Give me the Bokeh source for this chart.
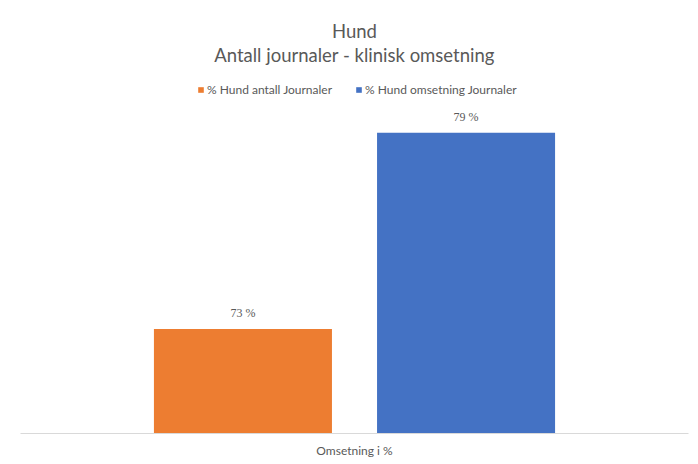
from bokeh.plotting import figure
from bokeh.models import ColumnDataSource, Range1d, FactorRange, LabelSet, Title, Legend
from bokeh.transform import dodge
from bokeh.embed import file_html
from bokeh.resources import INLINE

# ---- data ----
categories = ["Omsetning i %"]
series = ["% Hund antall Journaler", "% Hund omsetning Journaler"]
values = [73, 79]
value_labels = ["73 %", "79 %"]
colors = ["#ED7D31", "#4472C4"]
offsets = [-0.167, 0.167]
title_main = "Hund"
title_sub = "Antall journaler - klinisk omsetning"

FONT = "Lato"
GRAY = "#595959"

y_start, y_end = 69.8, 80.54

p = figure(width=692, height=460, output_backend="svg", toolbar_location=None,
           x_range=FactorRange(*categories), y_range=Range1d(y_start, y_end),
           min_border_left=20, min_border_right=4, min_border_bottom=25, min_border_top=82)
p.outline_line_color = None
p.background_fill_color = "white"
p.border_fill_color = "white"

legend_items = []
for name, v, lab, c, off in zip(series, values, value_labels, colors, offsets):
    src = ColumnDataSource(dict(cat=categories, value=[v], label=[lab]))
    r = p.vbar(x=dodge("cat", off, range=p.x_range), top="value", bottom=y_start,
               width=0.2665, source=src, fill_color=c, line_color=None)
    legend_items.append((name, [r]))
    lbl = LabelSet(x=dodge("cat", off, range=p.x_range), y="value", text="label", source=src,
                   text_align="center", text_baseline="bottom", y_offset=9,
                   text_font=FONT, text_font_size="12px", text_color=GRAY)
    p.add_layout(lbl)

legend = Legend(items=legend_items, orientation="horizontal", location=(177, 336),
                label_text_font=FONT, label_text_font_size="12px", label_text_color=GRAY,
                glyph_width=7, glyph_height=7, spacing=23, padding=2, margin=0,
                border_line_color=None, background_fill_alpha=0, label_standoff=3)
p.add_layout(legend)

p.add_layout(Title(text=title_sub, align="center",
                   text_font=FONT, text_font_size="18.5px", text_font_style="normal",
                   text_color=GRAY, standoff=0, padding=(0, 0, 0, 17)), "above")
p.add_layout(Title(text=title_main, align="center",
                   text_font=FONT, text_font_size="18.5px", text_font_style="normal",
                   text_color=GRAY, standoff=0), "above")

p.yaxis.visible = False
p.xgrid.grid_line_color = None
p.ygrid.grid_line_color = None
p.xaxis.axis_line_color = "#D9D9D9"
p.xaxis.axis_line_width = 1
p.xaxis.major_tick_line_color = None
p.xaxis.minor_tick_line_color = None
p.xaxis.major_tick_out = 0
p.xaxis.major_tick_in = 0
p.xaxis.major_label_text_font = FONT
p.xaxis.major_label_text_font_size = "12px"
p.xaxis.major_label_text_color = GRAY
p.xaxis.major_label_standoff = 9

open("out.html", "w").write(file_html(p, INLINE))
